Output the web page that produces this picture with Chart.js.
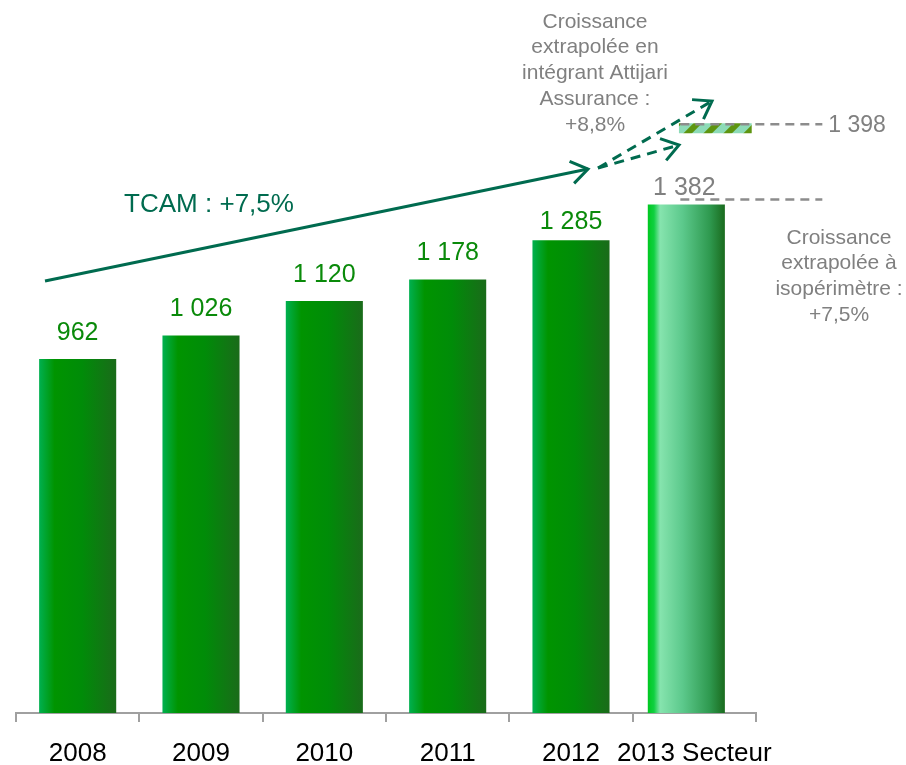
<!DOCTYPE html>
<html>
<head>
<meta charset="utf-8">
<script src="https://cdn.jsdelivr.net/npm/chart.js@4.4.0/dist/chart.umd.min.js"></script>
<style>
  html, body { margin: 0; padding: 0; background: #fff; }
  #wrap { width: 906px; height: 765px; position: relative; }
</style>
</head>
<body>
<div id="wrap"><canvas id="chart"></canvas></div>
<script>
// data
const annees = ['2008', '2009', '2010', '2011', '2012', '2013 Secteur']
const primes = [962, 1026, 1120, 1178, 1285, 1382]
// extrapolation incl. Attijari Assurance (drawn as a floating marker above the last bar)
const extrapolee = [null, null, null, null, null, [1576, 1603]]
const valeurExtrapolee = 1398

const FONT = 'Arial, "Liberation Sans", sans-serif'
const TEAL = '#006b4f'
const GRIS = '#808080'
// label placement above each bar (px), the last two sit a bit lower on the slide
const labelGap = [26, 26, 26, 26, 18, 16]

const fmt = v => String(v).replace(/\B(?=(\d{3})+(?!\d))/g, ' ')

function hatchPattern() {
  const s = 20
  const c = document.createElement('canvas')
  c.width = s; c.height = s
  const g = c.getContext('2d')
  g.fillStyle = '#8ddbb7'
  g.fillRect(0, 0, s, s)
  g.strokeStyle = '#5e9510'
  g.lineWidth = 6
  for (let o = -s; o <= s; o += s) {
    g.beginPath()
    g.moveTo(o, s)
    g.lineTo(o + s, 0)
    g.stroke()
  }
  return g.createPattern(c, 'repeat')
}

function arrow(ctx, x1, y1, x2, y2, dashed) {
  ctx.save()
  ctx.strokeStyle = TEAL
  ctx.lineWidth = 3
  ctx.lineCap = 'butt'
  ctx.setLineDash(dashed ? [10, 7] : [])
  ctx.beginPath()
  ctx.moveTo(x1, y1)
  ctx.lineTo(x2, y2)
  ctx.stroke()
  ctx.setLineDash([])
  const a = Math.atan2(y2 - y1, x2 - x1)
  const len = 20
  ctx.beginPath()
  ctx.moveTo(x2 - len * Math.cos(a - 0.6), y2 - len * Math.sin(a - 0.6))
  ctx.lineTo(x2, y2)
  ctx.lineTo(x2 - len * Math.cos(a + 0.6), y2 - len * Math.sin(a + 0.6))
  ctx.stroke()
  ctx.restore()
}

function multiline(ctx, lines, cx, y0, lh) {
  lines.forEach((t, i) => ctx.fillText(t, cx, y0 + i * lh))
}

// per-bar horizontal gradients
const barGradients = {
  id: 'barGradients',
  beforeDatasetsDraw(chart) {
    const ctx = chart.ctx
    const meta = chart.getDatasetMeta(0)
    meta.data.forEach((bar, i) => {
      const isLast = i === meta.data.length - 1
      // on the slide the last bar sits slightly left of its tick centre
      if (isLast && !bar._shifted) { bar.x -= 8; bar._shifted = true }
      const l = bar.x - bar.width / 2, r = bar.x + bar.width / 2
      const g = ctx.createLinearGradient(l, 0, r, 0)
      if (isLast) {
        g.addColorStop(0, '#00c820')
        g.addColorStop(0.08, '#10d040')
        g.addColorStop(0.16, '#86e4ae')
        g.addColorStop(0.45, '#5cc98c')
        g.addColorStop(0.8, '#2f9a50')
        g.addColorStop(1, '#1a6b1e')
      } else {
        g.addColorStop(0, '#00b050')
        g.addColorStop(0.2, '#009400')
        g.addColorStop(0.55, '#008c08')
        g.addColorStop(1, '#1a6b1a')
      }
      bar.options.backgroundColor = g
    })
  },
  beforeDatasetDraw(chart, args) {
    if (args.index === 1) {
      chart.ctx.save()
      chart.ctx.translate(21, 0)
    }
  },
  afterDatasetDraw(chart, args) {
    if (args.index === 1) chart.ctx.restore()
  }
}

const annotations = {
  id: 'annotations',
  afterDraw(chart) {
    const ctx = chart.ctx
    const y = chart.scales.y
    const meta = chart.getDatasetMeta(0)
    const n = primes.length

    // value labels
    ctx.save()
    ctx.font = '25px ' + FONT
    ctx.textAlign = 'center'
    ctx.textBaseline = 'middle'
    meta.data.forEach((bar, i) => {
      ctx.fillStyle = i === n - 1 ? GRIS : '#0a8a0a'
      ctx.fillText(fmt(primes[i]), bar.x - (i === n - 1 ? 2 : 0), bar.y - labelGap[i])
    })

    // dashed reference lines
    const last = meta.data[n - 1]
    const x0 = last.x - 6
    ctx.strokeStyle = '#8c8c8c'
    ctx.lineWidth = 2.5
    ctx.setLineDash([9, 6])
    const yHi = y.getPixelForValue(extrapolee[n - 1][1]) + 1
    ctx.beginPath(); ctx.moveTo(x0, yHi); ctx.lineTo(x0 + 142, yHi); ctx.stroke()
    const yLo = y.getPixelForValue(primes[n - 1]) - 5
    ctx.beginPath(); ctx.moveTo(x0, yLo); ctx.lineTo(x0 + 142, yLo); ctx.stroke()
    ctx.setLineDash([])

    ctx.fillStyle = GRIS
    ctx.font = '23px ' + FONT
    ctx.textAlign = 'left'
    ctx.fillText(fmt(valeurExtrapolee), x0 + 148, yHi + 1)

    // side notes
    ctx.font = '21px ' + FONT
    ctx.textAlign = 'center'
    multiline(ctx, ['Croissance', 'extrapolée en', 'intégrant Attijari', 'Assurance :', '+8,8%'], 595, 22, 25.7)
    multiline(ctx, ['Croissance', 'extrapolée à', 'isopérimètre :', '+7,5%'], 839, 238, 25.7)

    // TCAM arrow
    ctx.fillStyle = TEAL
    ctx.font = '26px ' + FONT
    ctx.fillText('TCAM : +7,5%', 209, 205)
    ctx.restore()

    arrow(ctx, 45, 281, 588, 169, false)
    arrow(ctx, 598, 168, 712, 101, true)
    arrow(ctx, 598, 168, 679, 145, true)
  }
}

new Chart(document.getElementById('chart'), {
  type: 'bar',
  data: {
    labels: annees,
    datasets: [
      {
        data: primes,
        // scriptable so each bar keeps its own options (gradient set per bar)
        backgroundColor: () => '#009400',
        barPercentage: 0.625,
        categoryPercentage: 1
      },
      {
        data: extrapolee,
        backgroundColor: hatchPattern(),
        grouped: false,
        barPercentage: 0.59,
        categoryPercentage: 1
      }
    ]
  },
  options: {
    responsive: true,
    maintainAspectRatio: false,
    animation: false,
    layout: { padding: { left: 16, right: 150, top: 0, bottom: 0 } },
    plugins: { legend: { display: false }, tooltip: { enabled: false } },
    scales: {
      x: {
        grid: { display: true, drawOnChartArea: false, tickLength: 9, color: '#a0a0a0', lineWidth: 2 },
        border: { color: '#a0a0a0', width: 2 },
        ticks: { color: '#000', font: { family: FONT, size: 26 }, padding: 16, maxRotation: 0, autoSkip: false },
        afterFit(scale) { scale.height = 52 }
      },
      y: { display: false, min: 0, max: 1938 }
    }
  },
  plugins: [barGradients, annotations]
})
</script>
</body>
</html>
